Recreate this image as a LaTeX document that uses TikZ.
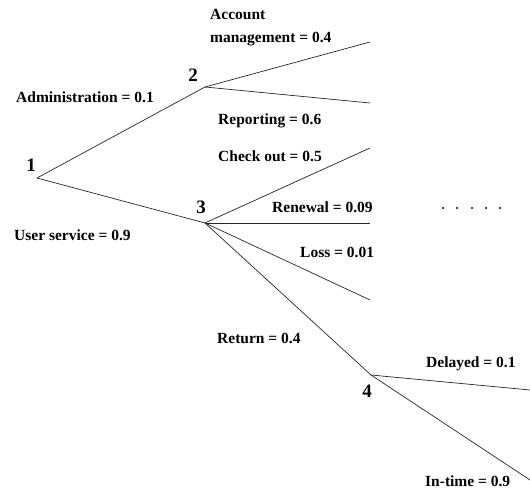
\documentclass[tikz,border=0pt]{standalone}
\usepackage{fontspec}
\setmainfont{Liberation Serif}
\begin{document}
\begin{tikzpicture}[x=1pt,y=1pt,
  branch/.style={draw=black!85,line width=0.7pt},
  lbl/.style={anchor=base west,inner sep=0pt,font=\fontsize{15.5}{18}\selectfont\bfseries},
  num/.style={anchor=base,inner sep=0pt,font=\fontsize{19}{22}\selectfont\bfseries}]
\useasboundingbox (0,0) rectangle (530,495);
% decision points
\coordinate (n1) at (37,317);
\coordinate (n2) at (205,408);
\coordinate (n3) at (205,272);
\coordinate (n4) at (371,120);
% open branch ends
\coordinate (acc) at (370,453);
\coordinate (rep) at (370,392);
\coordinate (chk) at (370,347);
\coordinate (ren) at (370,272);
\coordinate (los) at (370,195);
\coordinate (del) at (530,105);
\coordinate (int) at (530,15);
% branches
\draw[branch] (n1) -- (n2);
\draw[branch] (n1) -- (n3);
\draw[branch] (n2) -- (acc);
\draw[branch] (n2) -- (rep);
\draw[branch] (n3) -- (chk);
\draw[branch] (n3) -- (ren);
\draw[branch] (n3) -- (los);
\draw[branch] (n3) -- (n4);
\draw[branch] (n4) -- (del);
\draw[branch] (n4) -- (int);
% node numbers
\node[num] (t1) at (31,323) {1};
\node[num] (t2) at (193,413) {2};
\node[num] (t3) at (201,281) {3};
\node[num] (t4) at (367,97) {4};
% branch labels
\node[lbl] (lacc1) at (210,475) {Account};
\node[lbl] (lacc2) at (210,452) {management = 0.4};
\node[lbl] (ladm) at (16,392) {Administration = 0.1};
\node[lbl] (lrep) at (218,370) {Reporting = 0.6};
\node[lbl] (lchk) at (218,333) {Check out = 0.5};
\node[lbl] (lren) at (272,282) {Renewal = 0.09};
\node[lbl] (llos) at (300,237) {Loss = 0.01};
\node[lbl] (lusr) at (14,254) {User service = 0.9};
\node[lbl] (lret) at (217,151) {Return = 0.4};
\node[lbl] (ldel) at (426,127) {Delayed = 0.1};
\node[lbl] (lint) at (425,8) {In-time = 0.9};
% continuation dots
\foreach \i [count=\k] in {443,457,472,486,500}
  \fill (\i,287) circle (1.2pt) coordinate (dot\k);
\end{tikzpicture}
\end{document}
